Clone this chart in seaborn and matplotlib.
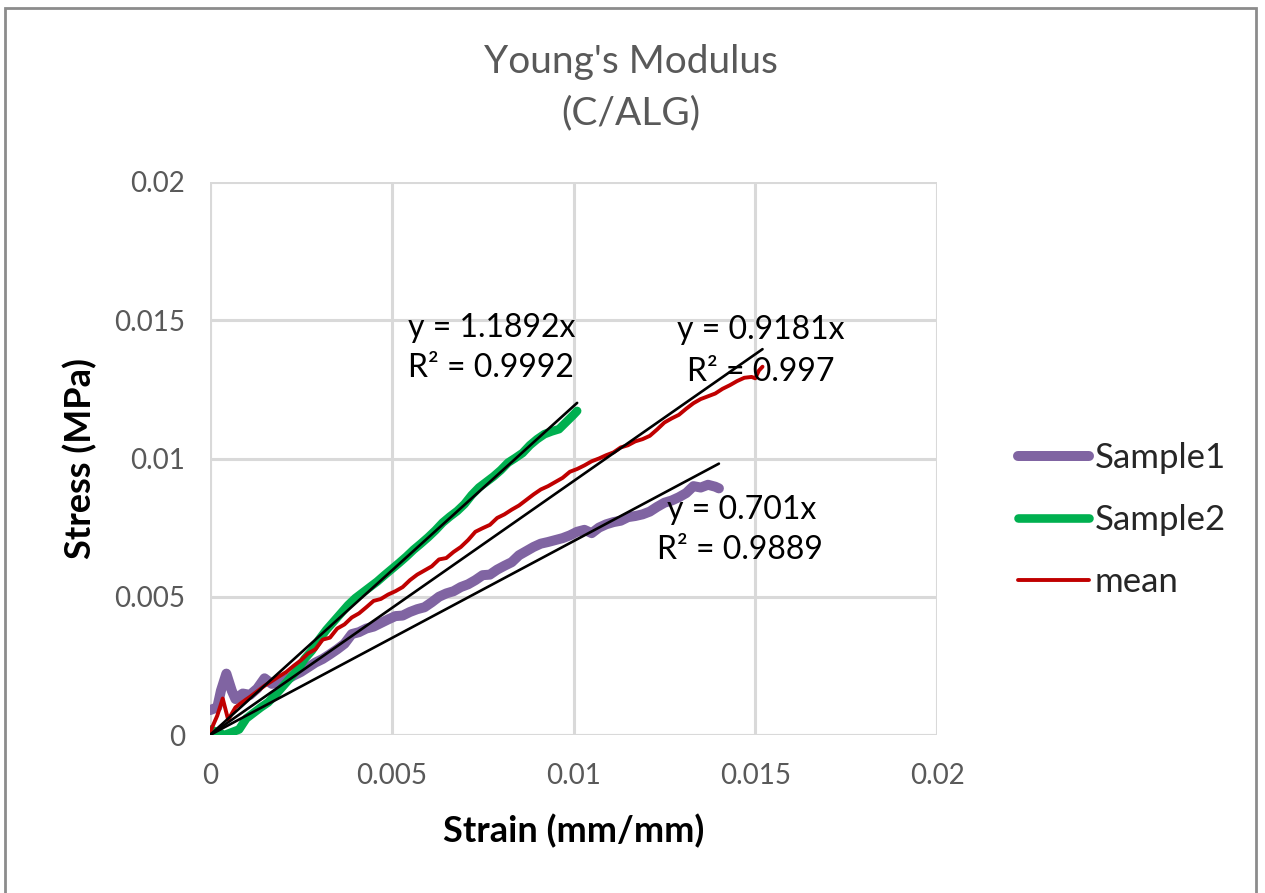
import numpy as np
import pandas as pd
import matplotlib
matplotlib.use("Agg")
import matplotlib.pyplot as plt
import seaborn as sns
from matplotlib.lines import Line2D
from matplotlib.patches import Rectangle

# ---------------- data ----------------
s1_x = [0.0000, 0.0002, 0.0003, 0.00045, 0.0006, 0.0007, 0.0009, 0.0011, 0.0013, 0.0015,
        0.0017, 0.0019, 0.0021, 0.0023, 0.0025, 0.0027, 0.0029, 0.0031, 0.0033, 0.0035,
        0.0037, 0.0039, 0.0041, 0.0043, 0.0045, 0.0047, 0.0049, 0.0051, 0.0053, 0.0055,
        0.0057, 0.0059, 0.0061, 0.0063, 0.0065, 0.0067, 0.0069, 0.0071, 0.0073, 0.0075,
        0.0077, 0.0079, 0.0081, 0.0083, 0.0085, 0.0087, 0.0089, 0.0091, 0.0093, 0.0095,
        0.0097, 0.0099, 0.0101, 0.0103, 0.0105, 0.0107, 0.0109, 0.0111, 0.0113, 0.0115,
        0.0117, 0.0119, 0.0121, 0.0123, 0.0125, 0.0127, 0.0129, 0.0131, 0.0133, 0.0135,
        0.0137, 0.0139, 0.0140]
s1_y = [0.00090, 0.00100, 0.00160, 0.00222, 0.00160, 0.00130, 0.00150, 0.00145, 0.00168, 0.00205,
        0.00185, 0.00192, 0.00200, 0.00215, 0.00228, 0.00245, 0.00262, 0.00275, 0.00292, 0.00310,
        0.00330, 0.00365, 0.00372, 0.00385, 0.00392, 0.00405, 0.00418, 0.00430, 0.00432, 0.00445,
        0.00455, 0.00462, 0.00480, 0.00500, 0.00512, 0.00520, 0.00535, 0.00545, 0.00560, 0.00578,
        0.00580, 0.00598, 0.00612, 0.00625, 0.00650, 0.00665, 0.00680, 0.00692, 0.00698, 0.00705,
        0.00712, 0.00722, 0.00735, 0.00742, 0.00730, 0.00750, 0.00762, 0.00770, 0.00775, 0.00788,
        0.00792, 0.00798, 0.00808, 0.00825, 0.00840, 0.00848, 0.00860, 0.00875, 0.00900, 0.00895,
        0.00905, 0.00898, 0.00892]

s2_x = [0.0000, 0.0002, 0.0004, 0.0006, 0.0008, 0.0010, 0.0012, 0.0014, 0.0016, 0.0018,
        0.0020, 0.0022, 0.0024, 0.0026, 0.0028, 0.0030, 0.0032, 0.0034, 0.0036, 0.0038,
        0.0040, 0.0042, 0.0044, 0.0046, 0.0048, 0.0050, 0.0052, 0.0054, 0.0056, 0.0058,
        0.0060, 0.0062, 0.0064, 0.0066, 0.0068, 0.0070, 0.0072, 0.0074, 0.0076, 0.0078,
        0.0080, 0.0082, 0.0084, 0.0086, 0.0088, 0.0090, 0.0092, 0.0094, 0.0096, 0.0098,
        0.0100, 0.0101]
s2_y = [0.00020, 0.00010, 0.00000, 0.00010, 0.00020, 0.00060, 0.00080, 0.00100, 0.00118, 0.00145,
        0.00175, 0.00205, 0.00235, 0.00275, 0.00305, 0.00345, 0.00380, 0.00410, 0.00440, 0.00470,
        0.00495, 0.00515, 0.00535, 0.00555, 0.00578, 0.00600, 0.00622, 0.00645, 0.00670, 0.00692,
        0.00715, 0.00740, 0.00768, 0.00790, 0.00810, 0.00835, 0.00868, 0.00895, 0.00915, 0.00935,
        0.00958, 0.00985, 0.01002, 0.01020, 0.01048, 0.01070, 0.01088, 0.01098, 0.01106, 0.01132,
        0.01158, 0.01172]

mean_x = [0.0000, 0.0001, 0.0002, 0.00035, 0.0005, 0.0007, 0.0009, 0.0011, 0.0013, 0.0015,
          0.0017, 0.0019, 0.0021, 0.0023, 0.0025, 0.0027, 0.0029, 0.0031, 0.0033, 0.0035,
          0.0037, 0.0039, 0.0041, 0.0043, 0.0045, 0.0047, 0.0049, 0.0051, 0.0053, 0.0055,
          0.0057, 0.0059, 0.0061, 0.0063, 0.0065, 0.0067, 0.0069, 0.0071, 0.0073, 0.0075,
          0.0077, 0.0079, 0.0081, 0.0083, 0.0085, 0.0087, 0.0089, 0.0091, 0.0093, 0.0095,
          0.0097, 0.0099, 0.0101, 0.0103, 0.0105, 0.0107, 0.0109, 0.0111, 0.0113, 0.0115,
          0.0117, 0.0119, 0.0121, 0.0123, 0.0125, 0.0127, 0.0129, 0.0131, 0.0133, 0.0135,
          0.0137, 0.0139, 0.0141, 0.0143, 0.0145, 0.0147, 0.0149, 0.0150, 0.0151, 0.0152]
mean_y = [0.00010, 0.00040, 0.00070, 0.00132, 0.00055, 0.00100, 0.00120, 0.00138, 0.00158, 0.00178,
          0.00195, 0.00212, 0.00228, 0.00250, 0.00270, 0.00295, 0.00310, 0.00345, 0.00352, 0.00385,
          0.00400, 0.00425, 0.00440, 0.00462, 0.00485, 0.00492, 0.00508, 0.00520, 0.00535, 0.00560,
          0.00580, 0.00595, 0.00610, 0.00635, 0.00640, 0.00662, 0.00680, 0.00705, 0.00735, 0.00748,
          0.00760, 0.00785, 0.00798, 0.00815, 0.00830, 0.00850, 0.00870, 0.00888, 0.00900, 0.00915,
          0.00930, 0.00952, 0.00962, 0.00975, 0.00990, 0.01000, 0.01012, 0.01022, 0.01040, 0.01048,
          0.01062, 0.01070, 0.01082, 0.01105, 0.01130, 0.01145, 0.01158, 0.01180, 0.01200, 0.01215,
          0.01225, 0.01235, 0.01252, 0.01265, 0.01280, 0.01292, 0.01295, 0.01290, 0.01318, 0.01332]

series_names = ["Sample1", "Sample2", "mean"]
trend_slopes = [0.701, 1.1892, 0.9181]
trend_r2 = ["0.9889", "0.9992", "0.997"]
trend_xmax = [0.0140, 0.0101, 0.0152]

x_ticks = [0, 0.005, 0.01, 0.015, 0.02]
y_ticks = [0, 0.005, 0.01, 0.015, 0.02]
x_tick_labels = ["0", "0.005", "0.01", "0.015", "0.02"]
y_tick_labels = ["0", "0.005", "0.01", "0.015", "0.02"]

# ---------------- styling ----------------
sns.set_theme(style="white")
FONT = ["Lato", "DejaVu Sans"]
plt.rcParams["font.family"] = FONT

colors = {"Sample1": "#8064A2", "Sample2": "#00B050", "mean": "#C00000"}
widths = {"Sample1": 7.2, "Sample2": 6.2, "mean": 2.8}
grid_c = "#D9D9D9"
text_gray = "#595959"

W, H = 1265, 893
fig = plt.figure(figsize=(W / 100, H / 100), dpi=100)
ax = fig.add_axes([210 / W, 1 - 735 / H, (937 - 210) / W, (735 - 182) / H])

frames = [
    pd.DataFrame({"x": s1_x, "y": s1_y, "s": "Sample1"}),
    pd.DataFrame({"x": s2_x, "y": s2_y, "s": "Sample2"}),
    pd.DataFrame({"x": mean_x, "y": mean_y, "s": "mean"}),
]
for df in frames:
    name = df["s"].iloc[0]
    sns.lineplot(data=df, x="x", y="y", ax=ax, color=colors[name],
                 linewidth=widths[name], estimator=None, sort=False,
                 solid_capstyle="round", solid_joinstyle="round", legend=False, zorder=3)

# linear trendlines through origin
for slope, xm in zip(trend_slopes, trend_xmax):
    tx = np.array([0.0, xm])
    sns.lineplot(x=tx, y=slope * tx, ax=ax, color="black", linewidth=1.9,
                 estimator=None, legend=False, zorder=4)

ax.set_xlim(0, 0.02)
ax.set_ylim(0, 0.02)
ax.set_xticks(x_ticks)
ax.set_yticks(y_ticks)
ax.set_xticklabels(x_tick_labels)
ax.set_yticklabels(y_tick_labels)
ax.tick_params(axis="both", length=0, labelsize=20, labelcolor=text_gray)
ax.tick_params(axis="x", pad=20)
ax.tick_params(axis="y", pad=18)
ax.grid(True, color=grid_c, linewidth=2.2, zorder=0)
ax.set_axisbelow(True)
for sp in ax.spines.values():
    sp.set_visible(False)
ax.axhline(0, color=grid_c, linewidth=2.2, zorder=1)
ax.axvline(0, color=grid_c, linewidth=2.2, zorder=1)

ax.set_xlabel("Strain (mm/mm)", fontsize=26, fontweight="bold", color="black", labelpad=18)
ax.set_ylabel("Stress (MPa)", fontsize=26, fontweight="bold", color="black", labelpad=12)

# trendline equation labels
eq_pos = {"Sample1": (667, 510), "Sample2": (408, 328), "mean": (677, 330)}
r2_pos = {"Sample1": (657, 550), "Sample2": (408, 368), "mean": (687, 372)}
for name, slope, r2 in zip(series_names, trend_slopes, trend_r2):
    ex, ey = eq_pos[name]
    rx, ry = r2_pos[name]
    fig.text(ex / W, 1 - ey / H, f"y = {slope}x", fontsize=23, color="black",
             ha="left", va="center", zorder=10)
    fig.text(rx / W, 1 - ry / H, f"R² = {r2}", fontsize=23, color="black",
             ha="left", va="center", zorder=10)

# title
fig.text(631 / W, 1 - 62 / H, "Young's Modulus", fontsize=28, color=text_gray,
         ha="center", va="center")
fig.text(631 / W, 1 - 113 / H, "(C/ALG)", fontsize=28, color=text_gray,
         ha="center", va="center")

# legend
handles = [Line2D([0], [0], color=colors[n], linewidth=widths[n], solid_capstyle="round")
           for n in series_names]
leg = fig.legend(handles, series_names, loc="upper left",
                 bbox_to_anchor=(1018 / W, 1 - 442 / H), frameon=False,
                 fontsize=25, handlelength=2.05, handletextpad=0.15, labelspacing=0.86,
                 borderaxespad=0, borderpad=0)
for t in leg.get_texts():
    t.set_color("#262626")

# chart border
fig.patches.append(Rectangle((5 / W, -0.05), (1256 - 5) / W, (893 - 8) / H + 0.05,
                             transform=fig.transFigure, fill=False,
                             edgecolor="#8C8C8C", linewidth=2.0, clip_on=False))

fig.savefig("out.png", dpi=100, facecolor="white")
